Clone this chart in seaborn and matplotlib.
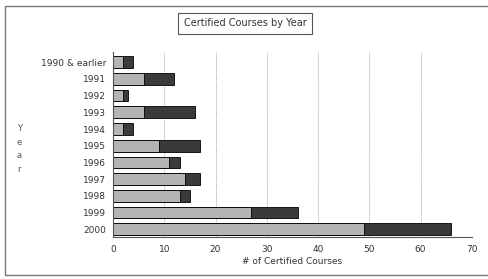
import matplotlib
matplotlib.use("Agg")
import matplotlib.pyplot as plt
import seaborn as sns
import pandas as pd
from matplotlib.patches import Rectangle

# Data
years = ["1990 & earlier", "1991", "1992", "1993", "1994", "1995",
         "1996", "1997", "1998", "1999", "2000"]
light_part = [2, 6, 2, 6, 2, 9, 11, 14, 13, 27, 49]
dark_part = [2, 6, 1, 10, 2, 8, 2, 3, 2, 9, 17]
x_ticks = [0, 10, 20, 30, 40, 50, 60, 70]

df = pd.DataFrame({"year": years, "light": light_part, "dark": dark_part})
df["total"] = df["light"] + df["dark"]

sns.set_style("white")
plt.rcParams["font.family"] = ["DejaVu Sans"]

fig = plt.figure(figsize=(4.89, 2.79), dpi=100)
ax = fig.add_axes([0.231, 0.151, 0.734, 0.663])

# Stacked bars: total (dark) underneath, light part on top
sns.barplot(data=df, x="total", y="year", color="#3a3a3a", orient="h",
            width=0.7, edgecolor="black", linewidth=0.6, saturation=1, ax=ax)
sns.barplot(data=df, x="light", y="year", color="#b4b4b4", orient="h",
            width=0.7, edgecolor="black", linewidth=0.6, saturation=1, ax=ax)

ax.set_xlim(0, 70)
ax.set_ylim(10.46, -0.62)
ax.set_xticks(x_ticks)
ax.set_xticklabels([str(t) for t in x_ticks], fontsize=6.5, color="#333333")
ax.tick_params(axis="y", labelsize=6.5, labelcolor="#333333", length=2, width=0.6, pad=3)
ax.tick_params(axis="x", length=2, width=0.6, pad=4)
ax.xaxis.grid(True, color="#a8a8a8", linestyle=(0, (1, 1)), linewidth=0.7)
ax.set_axisbelow(True)

for side in ["top", "right"]:
    ax.spines[side].set_visible(False)
for side in ["left", "bottom"]:
    ax.spines[side].set_color("#555555")
    ax.spines[side].set_linewidth(0.8)

ax.set_xlabel("# of Certified Courses", fontsize=6.5, color="#333333", labelpad=2)
ax.set_ylabel("")
fig.text(0.039, 0.466, "Y\ne\na\nr", fontsize=6, color="#555555",
         ha="center", va="center", linespacing=1.7)

fig.text(0.501, 0.916, "Certified Courses by Year", fontsize=7, color="#333333",
         ha="center", va="center",
         bbox=dict(boxstyle="square,pad=0.6", facecolor="white",
                   edgecolor="#555555", linewidth=0.8))

# frame around the whole chart (runs off the right edge in the scan)
fig.patches.append(Rectangle((0.01, 0.014), 1.2, 0.964, transform=fig.transFigure,
                             fill=False, edgecolor="#777777", linewidth=1.0))

fig.savefig("out.png", dpi=100)
